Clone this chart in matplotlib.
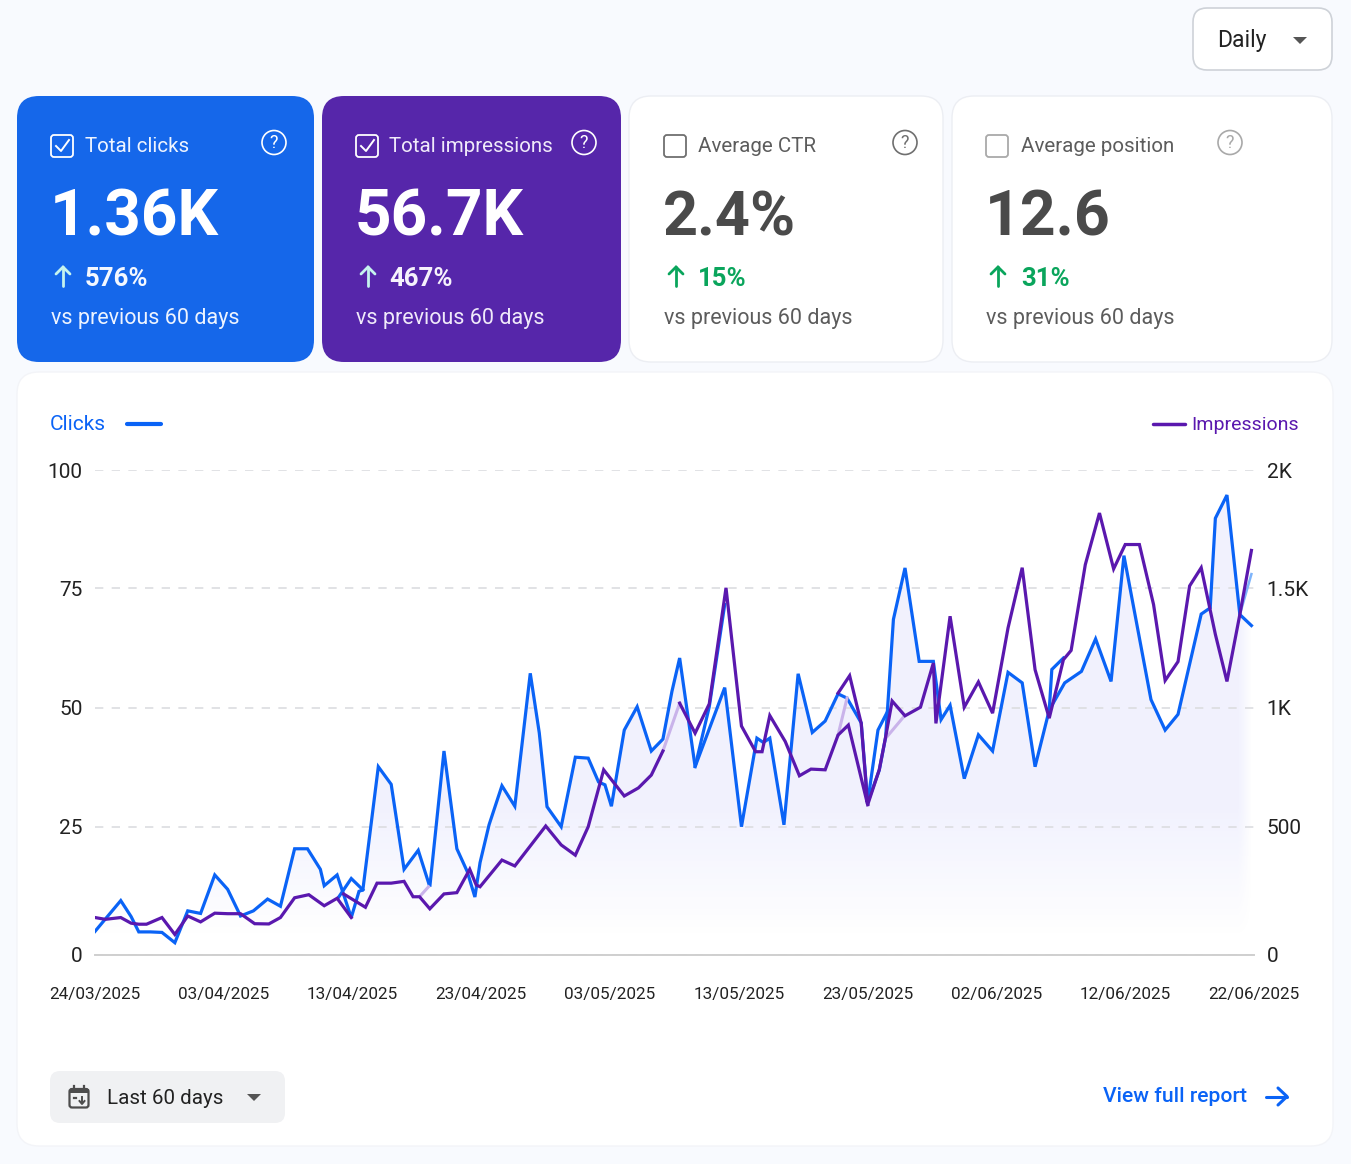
import numpy as np
import matplotlib
matplotlib.use('Agg')
import matplotlib.pyplot as plt
from matplotlib.patches import FancyBboxPatch, Circle, Polygon, Rectangle

plt.rcParams['font.family'] = ['Roboto', 'DejaVu Sans']

W, H = 1351, 1164
BLUE = '#0a63f6'
PURPLE = '#5a18ae'
nan = np.nan

# days since the first date, clicks on the left scale
click_days = [0, 1.0, 2.0, 2.8, 3.4, 4.3, 5.2, 6.2, 7.2, 8.2, 9.3, 10.3, 11.3, 12.3, 13.4, 14.4, 15.5, 16.5,
              17.5, 17.8, 18.8, 19.9, 20.5, 20.8, 22.0, 23.0, 24.0, 25.1, 26.0, 27.1, 28.1, 28.9, 29.5, 29.9,
              30.6, 31.6, 32.6, 33.8, 34.5, 35.1, 36.2, 37.3, 38.3, 39.1, 39.6, 40.1, 41.1, 42.1, 43.2, 44.1,
              44.8, 45.4, 46.6, 48.9, 50.2, 51.4, 51.9, 52.4, 53.5, 54.6, 55.7, 56.7, 57.7, 58.4, 59.5, 60.0,
              60.9, 61.4, 62.0, 62.9, 64.0, 65.1, 65.7, 66.4, 67.5, 68.6, 69.7, 70.9, 72.0, 73.0, 74.1, 75.3,
              76.6, 77.7, 78.9, 79.9, 82.0, 83.1, 84.1, 85.9, 86.6, 87.0, 87.9, 88.9, 89.8]
clicks = [4.6, 7.6, 10.6, 7.5, 4.5, 4.5, 4.4, 2.4, 8.6, 8.1, 15.6, 12.8, 7.6, 8.6, 10.9, 9.5, 20.7, 20.7,
          16.7, 13.5, 15.6, 7.3, 12.4, 12.7, 37.6, 33.9, 16.7, 20.4, 13.3, 40.9, 20.7, 16.3, 11.3, 18.0,
          25.4, 33.6, 29.3, 57.2, 44.7, 29.2, 25.0, 39.6, 39.4, 34.4, 33.8, 29.3, 45.3, 50.2, 40.9, 43.4,
          53.4, 60.4, 37.6, 54.2, 25.0, 43.6, 42.7, 43.6, 25.4, 57.1, 44.8, 47.2, 52.9, 52.0, 46.8, 30.1,
          36.9, 43.9, 68.5, 79.3, 59.7, 59.7, 47.5, 50.5, 35.1, 44.3, 40.9, 57.4, 55.2, 37.6, 49.5, 55.2,
          57.6, 64.4, 55.5, 81.9, 51.7, 45.3, 48.6, 69.6, 70.9, 89.8, 94.7, 69.5, 67.2]
# extra strands of the clicks line
click_branch_days = [18.9, 19.9, 20.8, nan, 46.6, 47.7, 48.9, nan, 60.0, 60.8, 61.6, nan, 74.1, 74.3, 75.2]
click_branch = [11.2, 14.9, 12.7, nan, 37.6, 50.2, 71.6, nan, 30.1, 45.3, 49.5, nan, 49.5, 58.0, 60.4]
click_fade_days = [88.9, 89.8]
click_fade = [69.5, 78.0]

# impressions on the right scale
impr_days = [0, 0.8, 2.0, 2.8, 3.4, 4.0, 5.2, 6.2, 7.2, 8.2, 9.3, 10.3, 11.3, 12.4, 13.5, 14.4, 15.5, 16.6,
             17.8, 18.8, 19.9, nan, 19.3, 21.0, 21.9, 23.0, 24.0, 24.7, 25.2, 26.0, 27.1, 28.1, 29.1, 29.6,
             29.9, 31.6, 32.6, 35.0, 36.2, 37.3, 38.3, 39.5, 41.1, 42.2, 43.2, 44.1, nan, 45.4, 46.6, 47.7,
             49.0, 50.2, 51.3, 51.8, 52.4, 53.6, 54.7, 55.6, 56.7, 57.7, 58.5, 60.0, nan, 57.7, 58.6, 59.5,
             60.0, 60.9, 61.4, 61.9, 62.9, 64.1, 65.1, 65.3, 66.4, 67.5, 68.6, 69.7, 70.9, 72.0, 73.0, 74.1,
             75.2, 75.8, 76.9, 78.0, 79.1, 80.0, 81.1, 82.2, 83.1, 84.1, 85.0, 85.9, 87.0, 87.9, 88.9, 89.8]
impressions = [146, 139, 146, 124, 120, 120, 146, 80, 152, 129, 163, 161, 161, 122, 121, 146, 223, 235,
               192, 221, 146, nan, 238, 186, 280, 280, 287, 227, 227, 180, 238, 243, 334, 273,
               266, 370, 347, 503, 429, 389, 500, 739, 629, 663, 717, 818, nan, 1019, 893, 1016,
               1502, 923, 815, 815, 967, 858, 714, 742, 739, 885, 927, 592, nan, 1061, 1134, 934,
               592, 739, 878, 1028, 966, 1002, 1187, 934, 1383, 1002, 1108, 977, 1334, 1587, 1159, 956,
               1201, 1240, 1600, 1818, 1582, 1685, 1685, 1432, 1114, 1193, 1510, 1587, 1307, 1110, 1390, 1660]
impr_fade_days = [25.2, 25.9, nan, 44.1, 45.4, nan, 57.7, 58.4, nan, 61.5, 62.8]
impr_fade = [227, 266, nan, 818, 1019, nan, 885, 1041, nan, 878, 962]

date_ticks = ['24/03/2025', '03/04/2025', '13/04/2025', '23/04/2025', '03/05/2025',
              '13/05/2025', '23/05/2025', '02/06/2025', '12/06/2025', '22/06/2025']
click_ticks = [0, 25, 50, 75, 100]
impr_ticks = [0, 500, 1000, 1500, 2000]
impr_tick_labels = ['0', '500', '1K', '1.5K', '2K']

card_titles = ['Total clicks', 'Total impressions', 'Average CTR', 'Average position']
card_values = ['1.36K', '56.7K', '2.4%', '12.6']
card_value_sizes = [46, 46, 44, 45]
card_changes = ['576%', '467%', '15%', '31%']

# the lowest band of the value axis is taller than the others
band_px = [0, 128.3, 247.3, 366.7, 485]

fig = plt.figure(figsize=(W / 100, H / 100), dpi=100, facecolor='#f8fafe')

# page furniture is drawn in pixel coordinates
ui = fig.add_axes([0, 0, 1, 1])
ui.set_xlim(0, W)
ui.set_ylim(H, 0)
ui.axis('off')


def box(x0, y0, x1, y1, r, fc, ec='none', lw=1.0):
    ui.add_patch(FancyBboxPatch((x0, y0), x1 - x0, y1 - y0, boxstyle=f'round,pad=0,rounding_size={r}',
                                fc=fc, ec=ec, lw=lw))


def up_arrow(x, y0, y1, color):
    ui.plot([x, x], [y0, y1], color=color, lw=2, solid_capstyle='round')
    ui.plot([x - 7, x, x + 7], [y1 + 7, y1, y1 + 7], color=color, lw=2, solid_capstyle='round',
            solid_joinstyle='miter')


def card(i, x0, x1, fc, ec, text_x, label_x, help_x, checked, check_color, text_color, big_color, up_color,
         change_color):
    box(x0, 96, x1, 362, 22, fc, ec)
    ui.add_patch(FancyBboxPatch((text_x, 135), 22, 22, boxstyle='round,pad=0,rounding_size=3', fc='none',
                                ec=check_color, lw=1.3))
    if checked:
        ui.plot([text_x + 5, text_x + 10, text_x + 18], [146, 151, 140], color=check_color, lw=1.4)
    ui.text(label_x, 146.5, card_titles[i], color=text_color, fontsize=14.8, va='center')
    ui.add_patch(Circle((help_x, 142.5), 12, fc='none', ec=check_color, lw=1.2))
    ui.text(help_x, 142.5, '?', color=check_color, fontsize=13, ha='center', va='center')
    ui.text(text_x - 1, 235, card_values[i], color=big_color, fontsize=card_value_sizes[i], fontweight='bold',
            va='baseline')
    up_arrow(text_x + 12, 286, 267, up_color)
    ui.text(label_x, 286, card_changes[i], color=change_color, fontsize=18.5, fontweight='bold', va='baseline')
    ui.text(text_x, 324, 'vs previous 60 days', color=text_color, fontsize=15.5, va='baseline')


card(0, 17, 314, '#1567ea', 'none', 51, 85, 274, True, 'white', '#eef4ff', 'white', '#c5f3ee', '#f4f8ff')
card(1, 322, 621, '#5626aa', 'none', 356, 389, 584, True, 'white', '#f0eafa', 'white', '#c5f3ee', '#f6f2fc')
card(2, 629, 943, 'white', '#eceef3', 664, 698, 905, False, '#6f6f6f', '#5c5c5c', '#4a4a4a', '#0aa55c', '#0aa55c')
card(3, 952, 1332, 'white', '#eceef3', 986, 1021, 1230, False, '#a9a9a9', '#5c5c5c', '#4a4a4a', '#0aa55c', '#0aa55c')

# period selector
box(1193, 8, 1332, 70, 14, 'white', '#ced2d8', 1.2)
ui.text(1217, 40.5, 'Daily', color='#222222', fontsize=16.5, va='center')
ui.add_patch(Polygon([[1293, 37], [1307, 37], [1300, 44]], fc='#555555', ec='none'))

# chart panel
box(17, 372, 1333, 1146, 22, 'white', '#f3f4f8')
ui.text(50, 425, 'Clicks', color=BLUE, fontsize=15, va='center')
ui.plot([127, 161], [424, 424], color=BLUE, lw=3, solid_capstyle='round')
ui.text(1299, 425, 'Impressions', color=PURPLE, fontsize=14, va='center', ha='right')
ui.plot([1153, 1185], [424, 424], color=PURPLE, lw=2.5, solid_capstyle='round')

# range selector and link
box(50, 1071, 285, 1123, 10, '#f0f1f3')
ui.add_patch(FancyBboxPatch((69.5, 1089), 19, 18.5, boxstyle='round,pad=0,rounding_size=2.5', fc='none',
                            ec='#4d4d4d', lw=1.6))
ui.add_patch(Rectangle((69.5, 1089), 19, 4, fc='#4d4d4d', ec='none'))
ui.plot([74, 74], [1086, 1090], color='#4d4d4d', lw=1.6)
ui.plot([84, 84], [1086, 1090], color='#4d4d4d', lw=1.6)
ui.plot([82, 82], [1097, 1103], color='#4d4d4d', lw=1.4)
ui.plot([79.5, 82, 84.5], [1101, 1104, 1101], color='#4d4d4d', lw=1.4)
ui.plot([74, 76], [1098, 1098], color='#4d4d4d', lw=1.6)
ui.text(107, 1098.5, 'Last 60 days', color='#222222', fontsize=14.8, va='center')
ui.add_patch(Polygon([[247, 1094], [261, 1094], [254, 1101]], fc='#555555', ec='none'))
ui.text(1103, 1097, 'View full report', color=BLUE, fontsize=15.2, fontweight='medium', va='center')
ui.plot([1266, 1287], [1096.5, 1096.5], color=BLUE, lw=2.2, solid_capstyle='round')
ui.plot([1278, 1287, 1278], [1088, 1096.5, 1105], color=BLUE, lw=2.2, solid_capstyle='round')


def to_band(v):
    return np.interp(v, click_ticks, band_px)


def from_band(p):
    return np.interp(p, band_px, click_ticks)


def impr_to_band(v):
    return np.interp(v, impr_ticks, band_px)


def impr_from_band(p):
    return np.interp(p, band_px, impr_ticks)


# chart axes
ax = fig.add_axes([95 / W, (H - 955) / H, (1254 - 95) / W, 485 / H])
ax.patch.set_alpha(0)
ax.set_yscale('function', functions=(to_band, from_band))
ax.set_xlim(0, 90)
ax.set_ylim(0, 100)
ax.set_xticks(np.arange(0, 91, 10), date_ticks)
ax.set_yticks(click_ticks, [str(t) for t in click_ticks])
ax.minorticks_off()
ax.tick_params(axis='x', length=0, pad=23, labelsize=12.3, labelcolor='#222222')
ax.tick_params(axis='y', length=0, pad=9, labelsize=15, labelcolor='#222222')
ax.grid(axis='y', color='#dcdde0', lw=1.2, linestyle=(0, (5, 5)))
ax.set_axisbelow(True)
for side in ['top', 'left', 'right']:
    ax.spines[side].set_visible(False)
ax.spines['bottom'].set_color('#cfcfcf')
ax.spines['bottom'].set_linewidth(1.4)

# soft area under the clicks line, fading towards the baseline and the right edge
area = ax.fill_between(click_days, clicks, 0, color='none', lw=0)
ramp_y = np.linspace(1, 0, 200)[:, None]
ramp_x = np.clip((1254 - np.linspace(95, 1254, 400)) / 14, 0, 1)[None, :]
shade = np.zeros((200, 400, 4))
shade[..., 0] = 0.36
shade[..., 1] = 0.38
shade[..., 2] = 0.95
shade[..., 3] = 0.085 * np.clip((ramp_y - 0.03) / 0.27, 0, 1) * ramp_x
img = ui.imshow(shade, extent=(95, 1254, 955, 470), aspect='auto', interpolation='bilinear', zorder=5)
img.set_clip_path(area.get_paths()[0], transform=ax.transData)
ui.set_xlim(0, W)
ui.set_ylim(H, 0)

ax.plot(click_days, clicks, color=BLUE, lw=2.3, solid_joinstyle='miter', zorder=3)
ax.plot(click_branch_days, click_branch, color=BLUE, lw=2.3, solid_joinstyle='miter', zorder=3)
ax.plot(click_fade_days, click_fade, color='#7db4fb', lw=1.8, zorder=2.5)

# impressions share the dates but have their own scale
ax2 = ax.twinx()
ax2.patch.set_alpha(0)
ax2.set_yscale('function', functions=(impr_to_band, impr_from_band))
ax2.set_ylim(0, 2000)
ax2.set_yticks(impr_ticks, impr_tick_labels)
ax2.minorticks_off()
ax2.tick_params(axis='y', length=0, pad=9, labelsize=15, labelcolor='#222222')
for side in ['top', 'left', 'right', 'bottom']:
    ax2.spines[side].set_visible(False)
ax2.plot(impr_fade_days, impr_fade, color='#c9b3ea', lw=2.2, zorder=2)
ax2.plot(impr_days, impressions, color=PURPLE, lw=2.3, solid_joinstyle='miter', zorder=3)

fig.savefig('out.png', dpi=100, facecolor=fig.get_facecolor())
